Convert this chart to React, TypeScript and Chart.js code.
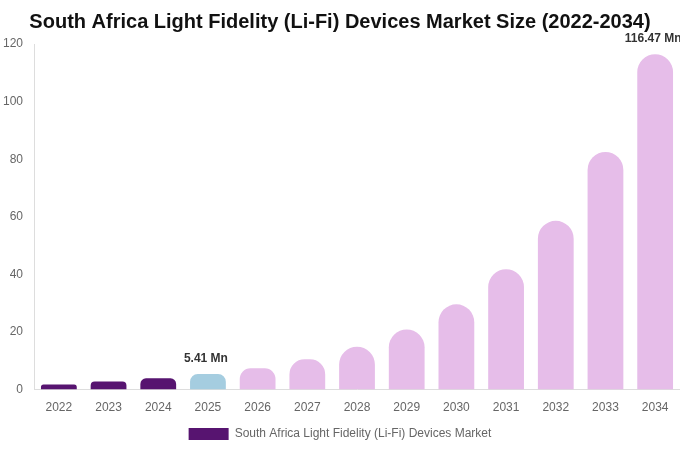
import React, { useEffect, useRef } from "react";
import { Chart, registerables } from "chart.js";

Chart.register(...registerables);

const categories = ["2022", "2023", "2024", "2025", "2026", "2027", "2028", "2029", "2030", "2031", "2032", "2033", "2034"];
const marketValues = [1.8, 2.8, 3.9, 5.41, 7.4, 10.5, 14.9, 20.9, 29.6, 41.8, 58.6, 82.5, 116.47];
const barColors = [
  "#571470", "#571470", "#571470", "#a5cde0",
  "#e6bde9", "#e6bde9", "#e6bde9", "#e6bde9", "#e6bde9", "#e6bde9", "#e6bde9", "#e6bde9", "#e6bde9",
];
const labelledIndexes = [3, 12];
const labelTexts = ["5.41 Mn", "116.47 Mn"];
const yTicks = [0, 20, 40, 60, 80, 100, 120];
const titleText = "South Africa Light Fidelity (Li-Fi) Devices Market Size (2022-2034)";
const seriesName = "South Africa Light Fidelity (Li-Fi) Devices Market";

const valueLabelPlugin = {
  id: "valueLabels",
  afterDatasetsDraw(chart: any) {
    const ctx = chart.ctx;
    const meta = chart.getDatasetMeta(0);
    ctx.save();
    ctx.font = "bold 12px 'Liberation Sans', Arial, sans-serif";
    ctx.fillStyle = "#333333";
    ctx.textAlign = "center";
    ctx.textBaseline = "bottom";
    labelledIndexes.forEach((idx, i) => {
      const el = meta.data[idx];
      ctx.fillText(labelTexts[i], el.x - 2, el.y - 9);
    });
    ctx.restore();
  },
};

export default function App() {
  const ref = useRef<HTMLCanvasElement | null>(null);
  useEffect(() => {
    if (!ref.current) return;
    const chart = new Chart(ref.current, {
      type: "bar",
      data: {
        labels: categories,
        datasets: [
          {
            label: seriesName,
            data: marketValues,
            backgroundColor: barColors,
            borderRadius: 18,
            borderSkipped: "bottom",
          },
        ],
      },
      options: {
        animation: false,
        responsive: false,
        maintainAspectRatio: false,
        layout: { padding: { left: 0, right: 0, top: 0, bottom: 0 } },
        plugins: {
          title: {
            display: true,
            text: titleText,
            color: "#111111",
            font: { family: "'Liberation Sans', Arial, sans-serif", size: 20, weight: "bold" },
            padding: { top: 10, bottom: 10 },
          },
          legend: {
            position: "bottom",
            labels: {
              color: "#666666",
              font: { family: "'Liberation Sans', Arial, sans-serif", size: 12 },
              boxWidth: 40,
              boxHeight: 12,
            },
          },
          tooltip: { enabled: false },
        },
        scales: {
          x: {
            grid: { display: false },
            border: { display: true, color: "#dddddd" },
            ticks: { color: "#666666", font: { family: "'Liberation Sans', Arial, sans-serif", size: 12 } },
          },
          y: {
            min: 0,
            max: 120,
            grid: { display: false },
            border: { display: true, color: "#dddddd" },
            afterBuildTicks: (axis: any) => {
              axis.ticks = yTicks.map((v) => ({ value: v }));
            },
            ticks: { color: "#666666", font: { family: "'Liberation Sans', Arial, sans-serif", size: 12 } },
          },
        },
      },
      plugins: [valueLabelPlugin],
    });
    return () => chart.destroy();
  }, []);
  return (
    <div style={{ position: "fixed", left: 0, top: 0, width: 680, height: 450, background: "#ffffff" }}>
      <canvas ref={ref} width={680} height={450} style={{ width: 680, height: 450 }} />
    </div>
  );
}
